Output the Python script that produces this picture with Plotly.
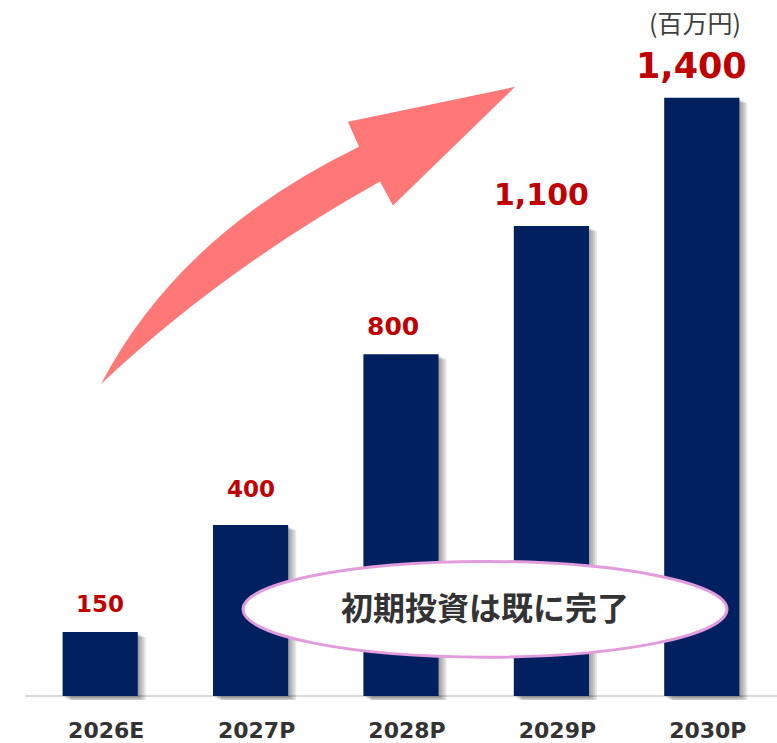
import plotly.graph_objects as go

# ---- data ----
categories = ["2026E", "2027P", "2028P", "2029P", "2030P"]
values = [150, 400, 800, 1100, 1400]
value_labels = ["150", "400", "800", "1,100", "1,400"]
unit_label = "(百万円)"
callout_text = "初期投資は既に完了"

# ---- style ----
label_sizes = [23, 23, 25, 30, 35]
label_xshift = [0, 0, -8, -10, -10]
label_yshift = [28, 36, 28, 32, 32]
BAR_COLOR = "#002060"
LABEL_COLOR = "#C00000"
TEXT_DARK = "#333333"

W, H = 777, 743
ML, MR, MT, MB = 25, 0, 40, 41
PW, PH = W - ML - MR, H - MT - MB
BASE_PX = 698
PX_PER_UNIT = 3 / 7
y_top = (BASE_PX - MT) / PX_PER_UNIT
y_bot = -(H - MB - BASE_PX) / PX_PER_UNIT
CAT_PX = PW / len(categories)


def px_x(px):
    return (px - ML) / PW


def px_y(py):
    return (H - MB - py) / PH


fig = go.Figure()

# soft drop shadow layers
for dx, dy in [(2, 2), (4, 3), (6, 4), (8, 5)]:
    fig.add_trace(go.Bar(
        x=categories, y=values, base=-dy / PX_PER_UNIT,
        width=0.5, offset=-0.25 + dx / CAT_PX,
        marker=dict(color="rgba(0,0,0,0.1)", line=dict(width=0)),
        hoverinfo="skip", showlegend=False,
    ))

fig.add_trace(go.Bar(
    x=categories, y=values, width=0.5, offset=-0.25,
    marker=dict(color=BAR_COLOR, line=dict(width=0)),
    showlegend=False,
))

annotations = []
for c, v, t, fs, xs, ys in zip(categories, values, value_labels, label_sizes, label_xshift, label_yshift):
    annotations.append(dict(
        x=c, y=v, xref="x", yref="y", text=f"<b>{t}</b>", showarrow=False,
        yanchor="middle", xanchor="center", xshift=xs, yshift=ys,
        font=dict(family="DejaVu Sans", size=fs, color=LABEL_COLOR),
    ))

annotations.append(dict(
    x=px_x(695), y=px_y(22), xref="paper", yref="paper", text=unit_label,
    showarrow=False, xanchor="center", yanchor="middle",
    font=dict(family="Noto Sans CJK JP", size=25, color="#404040"),
))

annotations.append(dict(
    x=px_x(485), y=px_y(608), xref="paper", yref="paper", text=f"<b>{callout_text}</b>",
    showarrow=False, xanchor="center", yanchor="middle",
    font=dict(family="Noto Sans CJK JP", size=32, color=TEXT_DARK),
))

# curved arrow (decoration) in pixel space -> paper
def P(px, py):
    return f"{px_x(px):.5f},{px_y(py):.5f}"

arrow_path = (
    f"M {P(101,385)} Q {P(180,234)} {P(359,147)} "
    f"L {P(348,122)} L {P(515,87)} L {P(393,206)} L {P(380,182)} "
    f"Q {P(223,270)} {P(101,385)} Z"
)

shapes = [
    dict(type="line", xref="paper", yref="y", x0=0, x1=1, y0=0, y1=0,
         line=dict(color="#D9D9D9", width=2), layer="below"),
    dict(type="path", xref="paper", yref="paper", path=arrow_path,
         fillcolor="#FF7777", line=dict(width=0), layer="above"),
    dict(type="circle", xref="paper", yref="paper",
         x0=px_x(243), x1=px_x(727), y0=px_y(659), y1=px_y(563),
         fillcolor="white", line=dict(color="#E29BDB", width=3), layer="above"),
]

fig.update_layout(
    width=W, height=H,
    margin=dict(l=ML, r=MR, t=MT, b=MB),
    paper_bgcolor="white", plot_bgcolor="white",
    barmode="overlay",
    showlegend=False,
    annotations=annotations,
    shapes=shapes,
    xaxis=dict(
        type="category", range=[-0.5, len(categories) - 0.5],
        showgrid=False, zeroline=False, showline=False, ticks="",
        tickfont=dict(family="DejaVu Sans", size=22, color=TEXT_DARK, weight="bold"),
        ticklabelstandoff=15, ticklabelshift=6,
        fixedrange=True,
    ),
    yaxis=dict(range=[y_bot, y_top], visible=False, fixedrange=True),
)

fig.write_html(
    "out.html",
    config={"displayModeBar": False},
    post_script="document.body.style.margin='0';document.body.style.overflow='hidden';",
)
